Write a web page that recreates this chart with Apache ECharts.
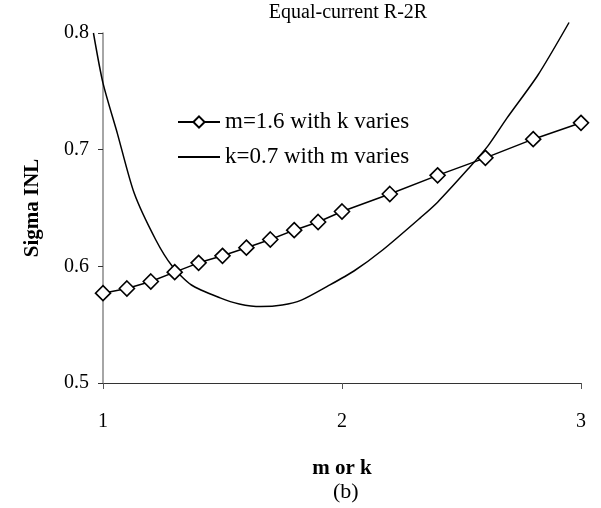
<!DOCTYPE html>
<html>
<head>
<meta charset="utf-8">
<script src="https://cdn.jsdelivr.net/npm/echarts@6/dist/echarts.min.js"></script>
<style>
  html, body { margin: 0; padding: 0; background: #fff; }
  #chart { width: 601px; height: 508px; }
</style>
</head>
<body>
<div id="chart"></div>
<script>
// m = 1.6 fixed, k swept
const kValues = [1.0, 1.1, 1.2, 1.3, 1.4, 1.5, 1.6, 1.7, 1.8, 1.9, 2.0, 2.2, 2.4, 2.6, 2.8, 3.0];
const sigmaVsK = [0.577, 0.581, 0.587, 0.595, 0.603, 0.609, 0.616, 0.623, 0.631, 0.638, 0.647, 0.662, 0.678, 0.693, 0.709, 0.723];

// k = 0.7 fixed, m swept (the sweep begins just below m = 1)
const mValues = [0.96, 1.0, 1.06, 1.13, 1.22, 1.29, 1.37, 1.49, 1.57, 1.66, 1.75, 1.83, 1.94, 2.05, 2.17, 2.33, 2.4, 2.53, 2.61, 2.69, 2.82, 2.95];
const sigmaVsM = [0.800, 0.757, 0.714, 0.663, 0.623, 0.600, 0.584, 0.573, 0.5678, 0.5655, 0.5668, 0.571, 0.583, 0.596, 0.614, 0.642, 0.655, 0.684, 0.703, 0.727, 0.764, 0.809];

const xTicks = [1, 2, 3];
const yTicks = [0.5, 0.6, 0.7, 0.8];

const seriesNames = ['m=1.6 with k varies', 'k=0.7 with m varies'];
const titleText = 'Equal-current R-2R';
const xName = 'm or k';
const yName = 'Sigma INL';
const panelTag = '(b)';

const serif = '"Liberation Serif", "Times New Roman", serif';

// plot box in pixels
const box = { left: 103, right: 20, top: 33, bottom: 125 };
const plotWidth = 601 - box.left - box.right;
const xMin = xTicks[0], xMax = xTicks[xTicks.length - 1];
const pxPerUnit = plotWidth / (xMax - xMin);
// second (hidden) grid reaching a little further left, same scale, so the
// m sweep can start before the visible axis origin
const mAxisMin = 0.9;

const chart = echarts.init(document.getElementById('chart'), null, { renderer: 'canvas' });

chart.setOption({
  backgroundColor: '#ffffff',
  animation: false,
  title: {
    text: titleText,
    left: 343,
    top: -2,
    textAlign: 'center',
    textStyle: { fontFamily: serif, fontSize: 20, fontWeight: 'normal', color: '#000' }
  },
  legend: {
    orient: 'vertical',
    left: 172,
    top: 104,
    itemWidth: 42,
    itemHeight: 14,
    itemGap: 9,
    textStyle: { fontFamily: serif, fontSize: 23, color: '#000', lineHeight: 26 },
    data: [
      { name: seriesNames[0] },
      { name: seriesNames[1], itemStyle: { opacity: 0 } }
    ]
  },
  grid: [
    { left: box.left, right: box.right, top: box.top, bottom: box.bottom },
    { left: box.left - (xMin - mAxisMin) * pxPerUnit, right: box.right, top: box.top, bottom: box.bottom }
  ],
  xAxis: [{
    type: 'value',
    gridIndex: 0,
    min: xMin,
    max: xMax,
    interval: 1,
    name: xName,
    nameLocation: 'middle',
    nameGap: 75,
    nameTextStyle: { fontFamily: serif, fontSize: 21, fontWeight: 'bold', color: '#000' },
    axisLine: { lineStyle: { color: '#333', width: 1.2 } },
    axisTick: { show: true, inside: false, length: 6, lineStyle: { color: '#555' } },
    axisLabel: { margin: 29, fontFamily: serif, fontSize: 20, color: '#000' },
    splitLine: { show: false }
  }, {
    type: 'value',
    gridIndex: 1,
    min: mAxisMin,
    max: xMax,
    show: false
  }],
  yAxis: [{
    type: 'value',
    gridIndex: 0,
    min: yTicks[0],
    max: yTicks[yTicks.length - 1],
    interval: 0.1,
    name: yName,
    nameLocation: 'middle',
    nameGap: 60,
    nameRotate: 90,
    nameTextStyle: { fontFamily: serif, fontSize: 21, fontWeight: 'bold', color: '#000' },
    axisLine: { show: true, lineStyle: { color: '#888', width: 1.5 } },
    axisTick: { show: true, inside: false, length: 5, lineStyle: { color: '#333' } },
    axisLabel: { margin: 14, fontFamily: serif, fontSize: 20, color: '#000',
                 formatter: v => v.toFixed(1) },
    splitLine: { show: false }
  }, {
    type: 'value',
    gridIndex: 1,
    min: yTicks[0],
    max: yTicks[yTicks.length - 1],
    show: false
  }],
  graphic: [{
    type: 'text',
    left: 333,
    top: 481,
    style: { text: panelTag, font: '22px ' + serif, fill: '#000' }
  }],
  series: [
    {
      name: seriesNames[0],
      type: 'line',
      xAxisIndex: 0,
      yAxisIndex: 0,
      data: kValues.map((k, i) => [k, sigmaVsK[i]]),
      symbol: 'diamond',
      symbolSize: 15,
      showAllSymbol: true,
      clip: false,
      lineStyle: { color: '#000', width: 1.5 },
      itemStyle: { color: '#fff', borderColor: '#000', borderWidth: 1.6 },
      z: 3
    },
    {
      name: seriesNames[1],
      type: 'line',
      xAxisIndex: 1,
      yAxisIndex: 1,
      data: mValues.map((m, i) => [m, sigmaVsM[i]]),
      symbol: 'none',
      smooth: 0.25,
      clip: false,
      lineStyle: { color: '#000', width: 1.5 },
      itemStyle: { color: '#000' },
      z: 2
    }
  ]
});
</script>
</body>
</html>
